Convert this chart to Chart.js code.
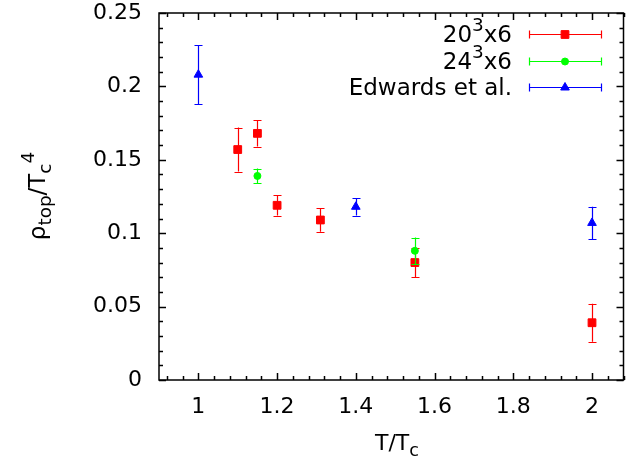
<!DOCTYPE html>
<html>
<head>
<meta charset="utf-8">
<script src="https://cdn.jsdelivr.net/npm/chart.js@4"></script>
<style>
html,body{margin:0;padding:0;background:#fff;}
canvas{display:block;}
</style>
</head>
<body>
<canvas id="c" width="630" height="466"></canvas>
<script>
// ---- data ----
const xTicks = [1, 1.2, 1.4, 1.6, 1.8, 2];
const xTickLabels = ['1', '1.2', '1.4', '1.6', '1.8', '2'];
const yTicks = [0, 0.05, 0.1, 0.15, 0.2, 0.25];
const yTickLabels = ['0', '0.05', '0.1', '0.15', '0.2', '0.25'];

const seriesLabels = ['20^3x6', '24^3x6', 'Edwards et al.'];

const s20X = [1.1, 1.15, 1.2, 1.31, 1.55, 2.0];
const s20Y = [0.157, 0.168, 0.119, 0.109, 0.080, 0.039];
const s20Err = [0.015, 0.009, 0.007, 0.008, 0.010, 0.013];

const s24X = [1.15, 1.55];
const s24Y = [0.139, 0.088];
const s24Err = [0.005, 0.009];

const edX = [1.0, 1.4, 2.0];
const edY = [0.208, 0.118, 0.107];
const edErr = [0.020, 0.006, 0.011];

const xTitle = 'T/T_c';
const yTitle = '\u03c1_{top}/T_c^4';

// ---- helpers ----
const FONT = '"DejaVu Sans", sans-serif';
function mk(xs, ys, es) {
  return xs.map((x, i) => ({ x: x, y: ys[i], e: es[i] }));
}
function parseRich(str) {
  const segs = [];
  let i = 0, buf = '';
  while (i < str.length) {
    const ch = str[i];
    if (ch === '^' || ch === '_') {
      if (buf) { segs.push({ t: buf, m: 0 }); buf = ''; }
      const mode = ch === '^' ? 1 : -1;
      let t;
      if (str[i + 1] === '{') {
        const j = str.indexOf('}', i + 2);
        t = str.slice(i + 2, j); i = j + 1;
      } else { t = str[i + 1]; i += 2; }
      segs.push({ t: t, m: mode });
    } else { buf += ch; i++; }
  }
  if (buf) segs.push({ t: buf, m: 0 });
  return segs;
}
function richWidth(ctx, segs, size) {
  let w = 0;
  segs.forEach(s => {
    ctx.font = (s.m ? size * 0.8 : size) + 'px ' + FONT;
    w += ctx.measureText(s.t).width;
  });
  return w;
}
function drawRich(ctx, str, x, y, size, align) {
  const segs = parseRich(str);
  const w = richWidth(ctx, segs, size);
  let cx = align === 'right' ? x - w : (align === 'center' ? x - w / 2 : x);
  ctx.textBaseline = 'alphabetic';
  ctx.textAlign = 'left';
  segs.forEach(s => {
    ctx.font = (s.m ? size * 0.8 : size) + 'px ' + FONT;
    const dy = s.m === 1 ? -size * 0.48 : (s.m === -1 ? size * 0.28 : 0);
    ctx.fillText(s.t, cx, y + dy);
    cx += ctx.measureText(s.t).width;
  });
}

const colors = ['#ff0000', '#00ff00', '#0000ff'];
const styles = ['rect', 'circle', 'triangle'];
const radii = [5.5, 3.5, 5];

function marker(ctx, style, r, color, x, y) {
  ctx.save();
  ctx.fillStyle = color;
  ctx.strokeStyle = color;
  ctx.lineWidth = 1;
  Chart.helpers.drawPoint(ctx, { pointStyle: style, radius: r, rotation: 0, borderWidth: 1 }, x, y);
  ctx.restore();
}

const decor = {
  id: 'decor',
  beforeDatasetDraw(chart, args) {
    const ctx = chart.ctx;
    const ds = chart.data.datasets[args.index];
    const xs = chart.scales.x, ys = chart.scales.y;
    ctx.save();
    ctx.strokeStyle = ds.borderColor;
    ctx.lineWidth = 1.2;
    ds.data.forEach(p => {
      const px = Math.round(xs.getPixelForValue(p.x)) + 0.5;
      const y1 = ys.getPixelForValue(p.y + p.e);
      const y2 = ys.getPixelForValue(p.y - p.e);
      ctx.beginPath();
      ctx.moveTo(px, y1); ctx.lineTo(px, y2);
      ctx.moveTo(px - 4, Math.round(y1) + 0.5); ctx.lineTo(px + 4, Math.round(y1) + 0.5);
      ctx.moveTo(px - 4, Math.round(y2) + 0.5); ctx.lineTo(px + 4, Math.round(y2) + 0.5);
      ctx.stroke();
    });
    ctx.restore();
  },
  afterDraw(chart) {
    const ctx = chart.ctx;
    const a = chart.chartArea;
    const xs = chart.scales.x, ys = chart.scales.y;
    ctx.save();
    ctx.strokeStyle = '#000';
    ctx.lineWidth = 1.5;
    ctx.strokeRect(a.left, a.top, a.right - a.left, a.bottom - a.top);
    ctx.beginPath();
    for (let k = 0; k <= 29; k++) {
      const v = 0.92 + k * 0.04;
      if (v > xs.max + 1e-9) break;
      const major = xTicks.some(t => Math.abs(t - v) < 1e-6);
      const len = major ? 7 : 4;
      const px = Math.round(xs.getPixelForValue(v)) + 0.5;
      ctx.moveTo(px, a.bottom); ctx.lineTo(px, a.bottom - len);
      ctx.moveTo(px, a.top); ctx.lineTo(px, a.top + len);
    }
    for (let k = 0; k <= 25; k++) {
      const v = k * 0.01;
      const major = (k % 5) === 0;
      const len = major ? 7 : 4;
      const py = Math.round(ys.getPixelForValue(v)) + 0.5;
      ctx.moveTo(a.left, py); ctx.lineTo(a.left + len, py);
      ctx.moveTo(a.right, py); ctx.lineTo(a.right - len, py);
    }
    ctx.stroke();

    // axis titles
    ctx.fillStyle = '#000';
    drawRich(ctx, xTitle, 397, 450, 22, 'center');
    ctx.save();
    ctx.translate(45, 196);
    ctx.rotate(-Math.PI / 2);
    drawRich(ctx, yTitle, 0, 0, 23, 'center');
    ctx.restore();

    // legend
    const rowsY = [34, 61, 87];
    chart.data.datasets.forEach((ds, i) => {
      const y = rowsY[i];
      ctx.fillStyle = '#000';
      drawRich(ctx, seriesLabels[i], 512, y + 8, 23, 'right');
      ctx.strokeStyle = colors[i];
      ctx.lineWidth = 1.2;
      const yy = y + 0.5;
      ctx.beginPath();
      ctx.moveTo(529, yy); ctx.lineTo(602, yy);
      ctx.moveTo(529.5, yy - 4); ctx.lineTo(529.5, yy + 4);
      ctx.moveTo(601.5, yy - 4); ctx.lineTo(601.5, yy + 4);
      ctx.stroke();
      marker(ctx, styles[i], radii[i], colors[i], 565, yy);
    });
    ctx.restore();
  }
};

new Chart(document.getElementById('c'), {
  type: 'scatter',
  data: {
    datasets: [
      { label: seriesLabels[0], data: mk(s20X, s20Y, s20Err), order: 3 },
      { label: seriesLabels[1], data: mk(s24X, s24Y, s24Err), order: 2 },
      { label: seriesLabels[2], data: mk(edX, edY, edErr), order: 1 }
    ].map((d, i) => Object.assign(d, {
      backgroundColor: colors[i], borderColor: colors[i], borderWidth: 1,
      pointStyle: styles[i], pointRadius: radii[i], pointHoverRadius: radii[i], showLine: false
    }))
  },
  options: {
    responsive: false,
    animation: false,
    events: [],
    layout: { padding: { top: 13, right: 4, left: 0, bottom: 0 } },
    plugins: { legend: { display: false }, tooltip: { enabled: false } },
    scales: {
      x: {
        type: 'linear', min: 0.9, max: 2.08,
        grid: { display: false, drawTicks: false },
        border: { display: false },
        afterBuildTicks: s => { s.ticks = xTicks.map(v => ({ value: v })); },
        afterFit: s => { s.height = 86; s.paddingLeft = 0; s.paddingRight = 0; },
        ticks: {
          padding: 14, color: '#000', font: { family: FONT, size: 22 },
          maxRotation: 0, autoSkip: false,
          callback: (v, i) => xTickLabels[i]
        }
      },
      y: {
        type: 'linear', min: 0, max: 0.25,
        grid: { display: false, drawTicks: false },
        border: { display: false },
        afterBuildTicks: s => { s.ticks = yTicks.map(v => ({ value: v })); },
        afterFit: s => { s.width = 159; s.paddingTop = 0; s.paddingBottom = 0; },
        ticks: {
          padding: 17, color: '#000', font: { family: FONT, size: 22 },
          autoSkip: false,
          callback: (v, i) => yTickLabels[i]
        }
      }
    }
  },
  plugins: [decor]
});
</script>
</body>
</html>
